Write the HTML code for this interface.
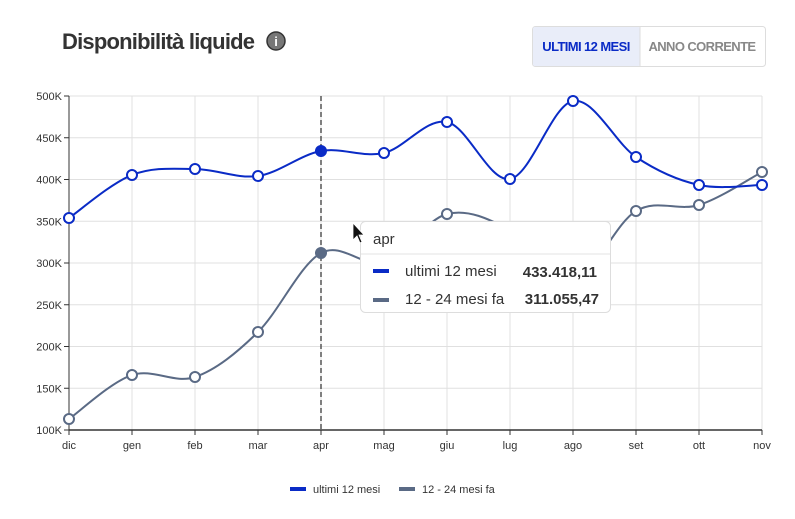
<!DOCTYPE html>
<html><head><meta charset="utf-8"><style>
body{margin:0;background:#fff;width:795px;height:514px;overflow:hidden;font-family:"Liberation Sans",sans-serif}
</style></head><body>
<svg id="s" width="795" height="514" xmlns="http://www.w3.org/2000/svg" font-family="Liberation Sans, sans-serif">
<text x="62" y="49" font-size="22" font-weight="bold" fill="#333" letter-spacing="-0.8">Disponibilità liquide</text>
<circle cx="276" cy="41" r="9" fill="#777" stroke="#333" stroke-width="1.5"/>
<text x="276" y="46" font-size="13" font-weight="bold" fill="#fff" text-anchor="middle">i</text>
<rect x="532.5" y="26.5" width="233" height="40" rx="3" fill="#fff" stroke="#ddd"/>
<rect x="533" y="27" width="107" height="39" rx="2" fill="#e9edf9"/>
<line x1="640" y1="27" x2="640" y2="66" stroke="#ddd"/>
<text x="586" y="51" font-size="13" font-weight="bold" fill="#0a2bc6" text-anchor="middle" letter-spacing="-0.6">ULTIMI 12 MESI</text>
<text x="702" y="51" font-size="13" font-weight="bold" fill="#888" text-anchor="middle" letter-spacing="-0.6">ANNO CORRENTE</text>
<g id="grid"></g>
<g id="lines"></g>
<g>
<rect x="360.5" y="221.5" width="250" height="91" rx="5" fill="#fff" stroke="#ddd"/>
<line x1="361" y1="254" x2="610" y2="254" stroke="#e3e3e3"/>
<text x="373" y="244" font-size="15" fill="#333">apr</text>
<rect x="373" y="269" width="16" height="4" fill="#0a2bc6"/>
<text x="405" y="276" font-size="15" fill="#333">ultimi 12 mesi</text>
<text x="597" y="277" font-size="15" font-weight="bold" fill="#333" text-anchor="end">433.418,11</text>
<rect x="373" y="298" width="16" height="4" fill="#5a6a85"/>
<text x="405" y="304" font-size="15" fill="#333">12 - 24 mesi fa</text>
<text x="599" y="304" font-size="15" font-weight="bold" fill="#333" text-anchor="end">311.055,47</text>
</g>
<path d="M353 223 L353 240 L357 236 L360 243 L362 242 L359 235 L364 235 Z" fill="#111" stroke="#fff" stroke-width="0.8"/>
<rect x="290" y="487" width="16" height="4" fill="#0a2bc6"/>
<text x="313" y="493" font-size="11" fill="#333">ultimi 12 mesi</text>
<rect x="399" y="487" width="16" height="4" fill="#5a6a85"/>
<text x="422" y="493" font-size="11" fill="#333">12 - 24 mesi fa</text>
</svg>
<script>
var NS="http://www.w3.org/2000/svg";
function el(p,t,a,txt){var e=document.createElementNS(NS,t);for(var k in a)e.setAttribute(k,a[k]);if(txt)e.textContent=txt;p.appendChild(e);return e;}
var g=document.getElementById('grid'),L=document.getElementById('lines');
var m=['dic','gen','feb','mar','apr','mag','giu','lug','ago','set','ott','nov'];
var X=m.map(function(_,i){return 69+63*i;});
for(var i=0;i<9;i++){var y=96+i*41.75;el(g,'line',{x1:69,x2:762,y1:y,y2:y,stroke:'#e0e0e0'});el(g,'line',{x1:64,x2:69,y1:y,y2:y,stroke:'#333'});
el(g,'text',{x:62,y:y+4,'font-size':11,fill:'#333','text-anchor':'end'},(500-50*i)+'K');}
X.forEach(function(x,i){if(i>0)el(g,'line',{x1:x,x2:x,y1:96,y2:430,stroke:'#e0e0e0'});el(g,'line',{x1:x,x2:x,y1:430,y2:435,stroke:'#333'});
el(g,'text',{x:x,y:449,'font-size':11,fill:'#333','text-anchor':'middle'},m[i]);});
el(g,'line',{x1:69,x2:69,y1:96,y2:430,stroke:'#333'});
el(g,'line',{x1:69,x2:762,y1:430,y2:430,stroke:'#333','stroke-width':1.5});
el(g,'line',{x1:321,x2:321,y1:96,y2:430,stroke:'#555','stroke-dasharray':'5,3','stroke-width':1.5});
function path(Y){var d='M'+X[0]+' '+Y[0];for(var i=0;i<Y.length-1;i++){var p0=i?i-1:0,p3=i+2<Y.length?i+2:i+1;
var c1x=X[i]+(X[i+1]-X[p0])/6,c1y=Y[i]+(Y[i+1]-Y[p0])/6,c2x=X[i+1]-(X[p3]-X[i])/6,c2y=Y[i+1]-(Y[p3]-Y[i])/6;
d+=' C'+c1x+' '+c1y+' '+c2x+' '+c2y+' '+X[i+1]+' '+Y[i+1];}return d;}
var G=[419,375,377,332,253,262,214,230,280,211,205,172];
var B=[218,175,169,176,151,153,122,179,101,157,185,185];
[[G,'#5a6a85'],[B,'#0a2bc6']].forEach(function(s){el(L,'path',{d:path(s[0]),fill:'none',stroke:s[1],'stroke-width':2});
s[0].forEach(function(y,i){el(L,'circle',{cx:X[i],cy:y,r:5,fill:i==4?s[1]:'#fff',stroke:s[1],'stroke-width':2});});});
</script>
</body></html>
